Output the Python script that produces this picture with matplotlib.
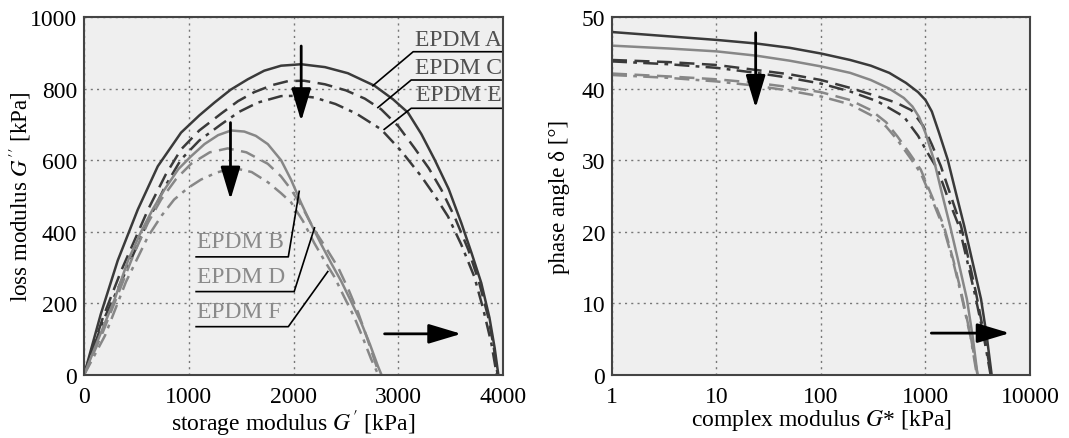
import matplotlib
matplotlib.use("Agg")
import matplotlib.pyplot as plt

# --- DATA ---
# left panel: loss modulus G'' vs storage modulus G'  [kPa]
a_gs = [0, 160, 322, 513, 704, 926, 1100, 1245, 1400, 1563, 1720, 1881, 2073, 2300, 2518, 2773, 2950, 3092,
        3220, 3346, 3480, 3601, 3700, 3792, 3870, 3920, 3955]
a_gl = [0, 170, 320, 462, 583, 677, 725, 761, 797, 826, 850, 864, 868, 860, 843, 808, 770, 733,
        673, 602, 520, 425, 340, 257, 160, 75, 0]
c_gs = [0, 180, 353, 611, 780, 926, 1100, 1308, 1470, 1624, 1800, 1948, 2100, 2300, 2500, 2680, 2837, 3000,
        3152, 3290, 3410, 3540, 3668, 3770, 3858, 3910, 3948]
c_gl = [0, 160, 290, 462, 560, 630, 683, 730, 765, 790, 810, 821, 822, 812, 795, 772, 742, 695,
        635, 578, 518, 440, 350, 260, 162, 80, 0]
e_gs = [0, 180, 384, 611, 780, 926, 1100, 1308, 1480, 1659, 1881, 2050, 2200, 2400, 2600, 2837, 3030, 3219,
        3350, 3474, 3600, 3725, 3810, 3887, 3940]
e_gl = [0, 150, 280, 430, 530, 602, 655, 700, 735, 761, 779, 780, 775, 757, 730, 686, 625, 555,
        500, 443, 365, 275, 185, 90, 0]
b_gs = [0, 150, 290, 420, 544, 660, 768, 900, 1022, 1150, 1280, 1404, 1530, 1640, 1754, 1881, 1977, 2073,
        2170, 2264, 2360, 2455, 2550, 2646, 2730, 2805, 2840]
b_gl = [0, 110, 210, 320, 400, 465, 518, 575, 611, 645, 670, 683, 680, 668, 645, 600, 545, 480,
        420, 365, 312, 262, 205, 146, 85, 25, 0]
d_gs = [0, 180, 330, 478, 610, 735, 880, 1022, 1200, 1372, 1550, 1754, 1880, 1977, 2090, 2197, 2310, 2426,
        2530, 2617, 2700, 2780, 2820]
d_gl = [0, 120, 230, 340, 425, 490, 548, 590, 622, 633, 622, 590, 555, 518, 465, 406, 355, 300,
        235, 174, 105, 35, 0]
f_gs = [0, 200, 400, 611, 740, 860, 990, 1117, 1270, 1433, 1600, 1757, 1880, 1977, 2090, 2197, 2290, 2388,
        2480, 2579, 2660, 2740, 2810]
f_gl = [0, 110, 260, 387, 445, 490, 522, 546, 566, 578, 567, 538, 508, 482, 430, 369, 322, 275,
        220, 162, 105, 45, 0]

# right panel: phase angle delta [deg] vs complex modulus G* [kPa]
a_gc = [1, 3.5, 10, 24, 50, 100, 190, 300, 450, 650, 850, 1000, 1150, 1350, 1630, 1950, 2350, 2850, 3400, 3850, 4300]
a_d = [47.9, 47.3, 46.8, 46.3, 45.7, 44.9, 44.0, 43.2, 42.2, 40.8, 39.5, 38.4, 36.8, 33.8, 30.1, 25.5, 20.8, 15.5, 10.6, 5.5, 0]
b_gc = [1, 3.5, 10, 24, 50, 100, 190, 300, 450, 620, 750, 870, 1000, 1200, 1430, 1720, 2090, 2490, 2820, 3150]
b_d = [46.0, 45.6, 45.2, 44.6, 43.9, 43.1, 42.2, 41.2, 40.0, 38.7, 37.5, 36.0, 33.8, 30.1, 25.5, 20.8, 15.5, 10.6, 5.5, 0]
c_gc = [1, 3.5, 10, 24, 50, 100, 190, 350, 530, 730, 950, 1150, 1400, 1750, 2190, 2600, 3040, 3650, 4250]
c_d = [44.0, 43.7, 43.3, 42.6, 42.0, 41.2, 40.1, 38.9, 38.0, 37.0, 34.8, 32.2, 29.2, 25.0, 20.8, 16.0, 11.5, 5.5, 0]
e_gc = [1, 3.5, 10, 24, 50, 100, 190, 350, 620, 850, 1050, 1310, 1650, 2090, 2500, 3000, 3600, 4200]
e_d = [43.8, 43.4, 42.9, 42.2, 41.5, 40.7, 39.6, 38.2, 36.1, 33.4, 31.0, 28.7, 24.6, 20.8, 16.0, 11.0, 5.5, 0]
d_gc = [1, 3.5, 10, 24, 50, 100, 190, 300, 420, 540, 700, 900, 1150, 1500, 1850, 2200, 2700, 3150]
d_d = [42.1, 41.7, 41.3, 40.8, 40.2, 39.5, 38.4, 37.0, 35.3, 33.3, 31.0, 28.7, 25.0, 20.8, 16.0, 11.5, 5.5, 0]
f_gc = [1, 3.5, 10, 24, 50, 100, 190, 300, 420, 540, 700, 900, 1150, 1500, 1850, 2200, 2700, 3100]
f_d = [41.9, 41.5, 41.0, 40.4, 39.7, 38.9, 37.8, 36.3, 34.7, 32.8, 30.5, 28.2, 24.6, 20.4, 15.7, 11.2, 5.3, 0]

# --- STYLE ---
DARK = '#3a3a3a'
GREY = '#878787'
BG = '#efefef'
DASH = (0, (6, 3))
DASHDOT = (0, (6, 2.5, 1.5, 2.5))
FS = 16

plt.rcParams['font.family'] = ['Liberation Serif', 'DejaVu Serif']
plt.rcParams['mathtext.fontset'] = 'stix'
plt.rcParams['font.size'] = FS

fig = plt.figure(figsize=(10.69, 4.39), dpi=100)
ax1 = fig.add_axes([0.0786, 0.1435, 0.392, 0.8155])
ax2 = fig.add_axes([0.5725, 0.1435, 0.391, 0.8155])

for ax in (ax1, ax2):
    ax.set_facecolor(BG)
    ax.grid(True, linestyle=(0, (1.5, 3)), color='#777777', linewidth=1.0)
    ax.tick_params(length=0, labelsize=17)
    ax.tick_params(axis='x', pad=8)
    ax.tick_params(axis='y', pad=5)
    for s in ax.spines.values():
        s.set_color('#444444')
        s.set_linewidth(1.5)

lw = 1.8
ax1.plot(a_gs, a_gl, color=DARK, lw=lw)
ax1.plot(c_gs, c_gl, color=DARK, lw=lw, linestyle=DASH)
ax1.plot(e_gs, e_gl, color=DARK, lw=lw, linestyle=DASHDOT)
ax1.plot(b_gs, b_gl, color=GREY, lw=lw)
ax1.plot(d_gs, d_gl, color=GREY, lw=lw, linestyle=DASH)
ax1.plot(f_gs, f_gl, color=GREY, lw=lw, linestyle=DASHDOT)

ax1.set_xlim(0, 4000)
ax1.set_ylim(0, 1000)
ax1.set_xticks([0, 1000, 2000, 3000, 4000])
ax1.set_yticks([0, 200, 400, 600, 800, 1000])
ax1.set_xlabel(r"storage modulus $G^{\prime}$ [kPa]", fontsize=17)
ax1.set_ylabel(r"loss modulus $G^{\prime\prime}$ [kPa]", fontsize=16.5)
ax1.xaxis.set_label_coords(0.5, -0.09)
ax1.yaxis.set_label_coords(-0.122, 0.5)

# labels with leader lines
kw = dict(color='black', lw=1.2)
for name, ty, uy, x0, tip in [('EPDM A', 938, 903, 3142, (2757, 808)),
                              ('EPDM C', 860, 824, 3123, (2805, 747)),
                              ('EPDM E', 784, 745, 3123, (2865, 686))]:
    ax1.text(3990, ty, name, ha='right', va='center', color='#505050', fontsize=17)
    ax1.plot([4000, x0, tip[0]], [uy, uy, tip[1]], **kw)

for name, ty, uy, x1, tip in [('EPDM B', 373, 330, 1950, (2054, 513)),
                              ('EPDM D', 274, 233, 2006, (2200, 411)),
                              ('EPDM F', 177, 135, 1950, (2327, 289))]:
    ax1.text(1079, ty, name, ha='left', va='center', color='#8a8a8a', fontsize=17)
    ax1.plot([1070, x1, tip[0]], [uy, uy, tip[1]], **kw)

arr = dict(arrowstyle='-|>,head_length=1.0,head_width=0.3', color='black',
           lw=2, mutation_scale=20, shrinkA=0, shrinkB=0)
ax1.annotate('', xy=(2073, 709), xytext=(2073, 919), arrowprops=arr)
ax1.annotate('', xy=(1398, 490), xytext=(1398, 705), arrowprops=arr)
ax1.annotate('', xy=(3601, 115), xytext=(2869, 115), arrowprops=arr)

ax2.plot(a_gc, a_d, color=DARK, lw=lw)
ax2.plot(c_gc, c_d, color=DARK, lw=lw, linestyle=DASH)
ax2.plot(e_gc, e_d, color=DARK, lw=lw, linestyle=DASHDOT)
ax2.plot(b_gc, b_d, color=GREY, lw=lw)
ax2.plot(d_gc, d_d, color=GREY, lw=lw, linestyle=DASH)
ax2.plot(f_gc, f_d, color=GREY, lw=lw, linestyle=DASHDOT)

ax2.set_xscale('log')
ax2.set_xlim(1, 10000)
ax2.set_ylim(0, 50)
ax2.set_xticks([1, 10, 100, 1000, 10000])
ax2.set_xticklabels(['1', '10', '100', '1000', '10000'])
ax2.minorticks_off()
ax2.set_yticks([0, 10, 20, 30, 40, 50])
ax2.set_xlabel(r"complex modulus $G$* [kPa]", fontsize=17)
ax2.set_ylabel("phase angle δ [°]", fontsize=16.5)
ax2.xaxis.set_label_coords(0.5, -0.09)
ax2.yaxis.set_label_coords(-0.100, 0.5)

ax2.annotate('', xy=(23.7, 37.3), xytext=(23.7, 47.8), arrowprops=arr)
ax2.annotate('', xy=(6400, 5.85), xytext=(1137, 5.85), arrowprops=arr)

fig.savefig('out.png', dpi=100)
